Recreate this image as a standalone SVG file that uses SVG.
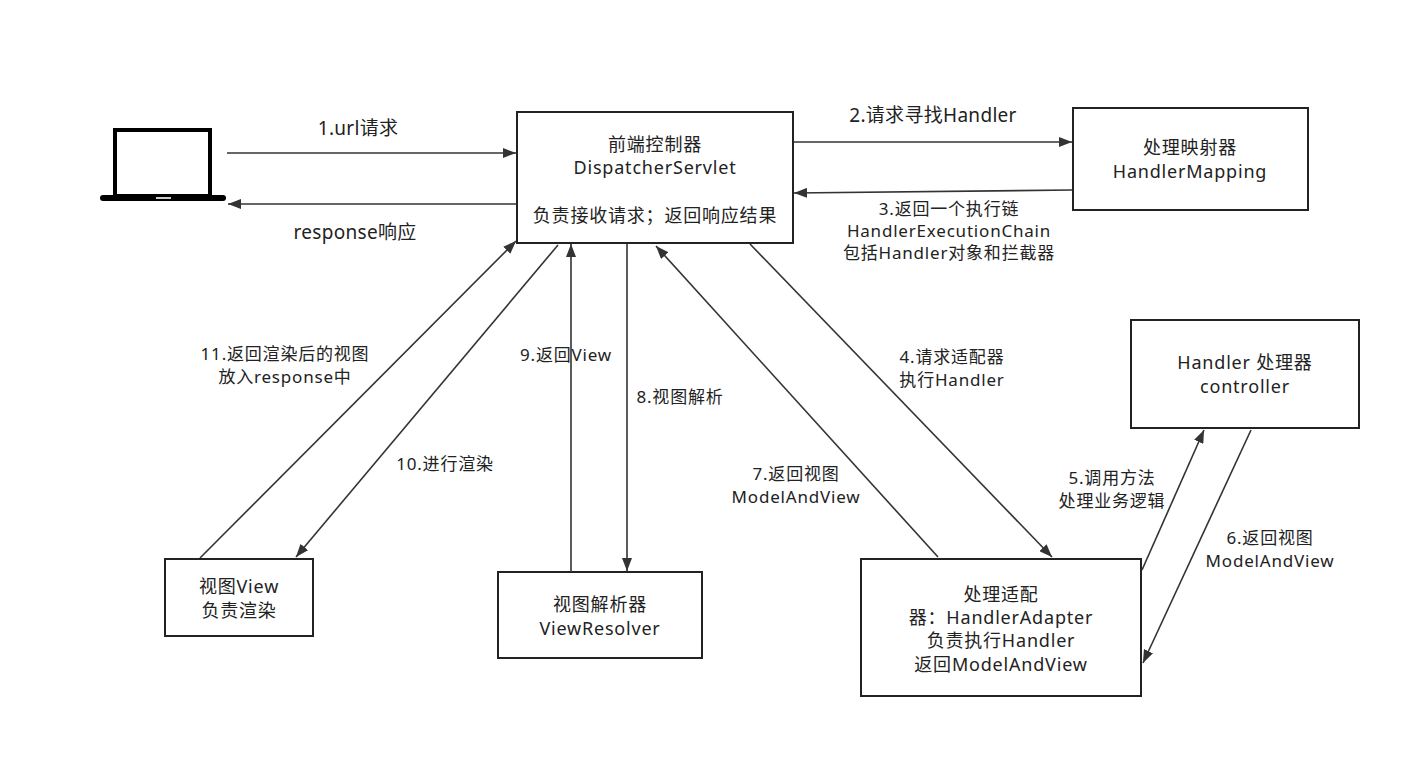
<svg xmlns="http://www.w3.org/2000/svg" width="1420" height="758" viewBox="0 0 1420 758">
<style>
.bg{fill:#fff}
.box{fill:#fff;stroke:#222;stroke-width:2}
.t{font-family:"Noto Sans","Noto Sans CJK SC",sans-serif;fill:#222;text-anchor:middle}
.n{font-size:18px;letter-spacing:0.8px}
.l{font-size:17px;letter-spacing:0.8px}
.big{font-size:19px;letter-spacing:0.3px}
.c{fill:none;stroke:#333;stroke-width:1.6}
</style>
<defs>
<marker id="ah" markerUnits="userSpaceOnUse" markerWidth="14" markerHeight="10" refX="13" refY="5" orient="auto">
<path d="M0,0 L13,5 L0,10 Z" fill="#333"/>
</marker>
</defs>
<rect class="bg" x="0" y="0" width="1420" height="758"/>

<g id="client">
<rect x="115" y="130" width="95" height="66" fill="#fff" stroke="#000" stroke-width="4"/>
<rect x="100" y="195" width="126" height="6" rx="3" fill="#000"/>
<rect x="156" y="197" width="15" height="2" fill="#ccc"/>
</g>

<g id="dispatcher">
<rect class="box" x="517" y="112" width="276" height="131"/>
<text class="t n" x="655" y="151">前端控制器</text>
<text class="t n" x="655" y="174">DispatcherServlet</text>
<text class="t n" x="655" y="222">负责接收请求；返回响应结果</text>
</g>

<g id="handlerMapping">
<rect class="box" x="1073" y="108" width="235" height="102"/>
<text class="t n" x="1190" y="154">处理映射器</text>
<text class="t n" x="1190" y="178">HandlerMapping</text>
</g>

<g id="handler">
<rect class="box" x="1131" y="320" width="228" height="108"/>
<text class="t n" x="1245" y="369">Handler 处理器</text>
<text class="t n" x="1245" y="393">controller</text>
</g>

<g id="handlerAdapter">
<rect class="box" x="861" y="559" width="280" height="137"/>
<text class="t n" x="1001" y="601">处理适配</text>
<text class="t n" x="1001" y="624">器：HandlerAdapter</text>
<text class="t n" x="1001" y="647">负责执行Handler</text>
<text class="t n" x="1001" y="671">返回ModelAndView</text>
</g>

<g id="view">
<rect class="box" x="165" y="559" width="148" height="77"/>
<text class="t n" x="239" y="593">视图View</text>
<text class="t n" x="239" y="617">负责渲染</text>
</g>

<g id="viewResolver">
<rect class="box" x="498" y="572" width="204" height="86"/>
<text class="t n" x="600" y="611">视图解析器</text>
<text class="t n" x="600" y="635">ViewResolver</text>
</g>

<g id="connectors">
<line class="c" x1="227" y1="153" x2="516" y2="153" marker-end="url(#ah)"/>
<line class="c" x1="516" y1="204" x2="228" y2="204" marker-end="url(#ah)"/>
<line class="c" x1="794" y1="142" x2="1072" y2="142" marker-end="url(#ah)"/>
<line class="c" x1="1072" y1="190" x2="794" y2="193" marker-end="url(#ah)"/>
<line class="c" x1="200" y1="558" x2="516" y2="241" marker-end="url(#ah)"/>
<line class="c" x1="558" y1="245" x2="296" y2="557" marker-end="url(#ah)"/>
<line class="c" x1="571" y1="572" x2="571" y2="244" marker-end="url(#ah)"/>
<line class="c" x1="627" y1="244" x2="627" y2="571" marker-end="url(#ah)"/>
<line class="c" x1="938" y1="557" x2="656" y2="246" marker-end="url(#ah)"/>
<line class="c" x1="750" y1="244" x2="1052" y2="557" marker-end="url(#ah)"/>
<line class="c" x1="1142" y1="570" x2="1204" y2="430" marker-end="url(#ah)"/>
<line class="c" x1="1251" y1="430" x2="1143" y2="663" marker-end="url(#ah)"/>
</g>

<g id="labels">
<text class="t big" x="358" y="135">1.url请求</text>
<text class="t big" x="355" y="239">response响应</text>
<text class="t big" x="933" y="122">2.请求寻找Handler</text>
<text class="t l" x="949" y="215">3.返回一个执行链</text>
<text class="t l" x="949" y="237">HandlerExecutionChain</text>
<text class="t l" x="949" y="259">包括Handler对象和拦截器</text>
<text class="t l" x="285" y="360">11.返回渲染后的视图</text>
<text class="t l" x="285" y="383">放入response中</text>
<text class="t l" x="445" y="470">10.进行渲染</text>
<text class="t l" x="566" y="361">9.返回View</text>
<text class="t l" x="680" y="403">8.视图解析</text>
<text class="t l" x="952" y="363">4.请求适配器</text>
<text class="t l" x="952" y="386">执行Handler</text>
<text class="t l" x="796" y="480">7.返回视图</text>
<text class="t l" x="796" y="503">ModelAndView</text>
<text class="t l" x="1112" y="484">5.调用方法</text>
<text class="t l" x="1112" y="507">处理业务逻辑</text>
<text class="t l" x="1270" y="544">6.返回视图</text>
<text class="t l" x="1270" y="567">ModelAndView</text>
</g>
</svg>
